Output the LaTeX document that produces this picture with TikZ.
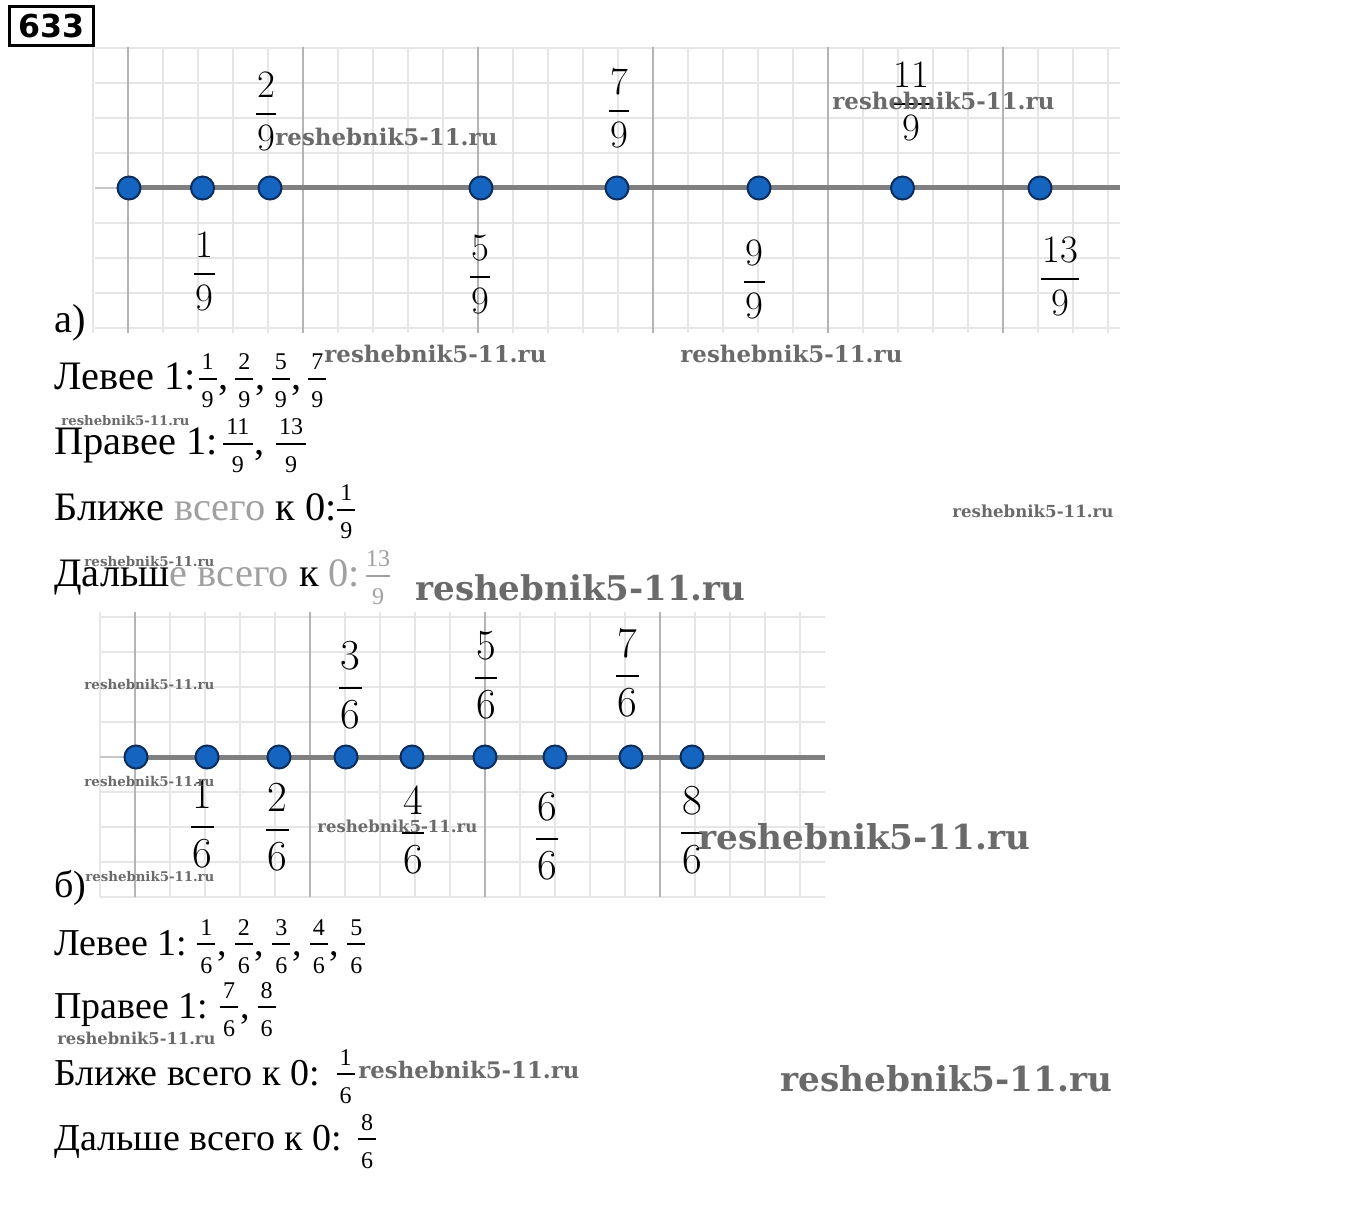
\documentclass[tikz,border=0pt]{standalone}
\usepackage[no-math]{fontspec}
\setmainfont{Liberation Serif}
\newfontfamily\boxfont{DejaVu Sans}
\newfontfamily\wmfont{DejaVu Serif}
\newfontfamily\lmfont{Latin Modern Roman}
\usepackage{graphicx}
\definecolor{minorgrid}{HTML}{E6E6E6}
\definecolor{majorgrid}{HTML}{B4B4B4}
\definecolor{axisgray}{HTML}{808080}
\definecolor{thinaxis}{HTML}{C8C8C8}
\definecolor{dotblue}{HTML}{1565C0}
\definecolor{dotedge}{HTML}{0B2D5C}
\definecolor{wmgray}{HTML}{6A6A6A}
\definecolor{washed}{HTML}{A0A0A0}
% graph fraction (display-style geometry, Latin Modern digits)
\newcommand\gfr[2]{{\lmfont
  \setbox0\hbox{#1}\setbox2\hbox{#2}%
  \dimen0=\wd0 \ifdim\wd2>\dimen0 \dimen0=\wd2\fi
  \advance\dimen0 by 0.06em
  \hbox to\dimen0{%
    \rlap{\hbox to\dimen0{\hss\raise0.677em\box0\hss}}%
    \rlap{\raise0.23em\hbox{\vrule width\dimen0 height 0.04em depth 0pt}}%
    \hbox to\dimen0{\hss\lower0.686em\box2\hss}}}}
% answer fraction
\newcommand\fs{\fontsize{12}{12}\selectfont}
\newcommand\fr[3][9pt]{\makebox[#1]{%
  \rlap{\makebox[#1]{\raisebox{10pt}{\fs #2}}}%
  \rlap{\rule[5pt]{#1}{1pt}}%
  \makebox[#1]{\raisebox{-9pt}{\fs #3}}}}
\newcommand\sep{\kern1pt,\kern3.25pt}
\newcommand\sepb{\kern1pt,\kern4pt}
\newcommand\wmtext[1]{\resizebox{#1}{!}{\wmfont\bfseries reshebnik5-11.ru}}
\begin{document}
\begin{tikzpicture}[x=0.5pt,y=-0.5pt,
  minor/.style={draw=minorgrid,line width=0.75pt},
  major/.style={draw=majorgrid,line width=1pt},
  thinax/.style={draw=thinaxis,line width=0.75pt},
  thickax/.style={draw=axisgray,line width=2.5pt},
  dot/.style={circle,fill=dotblue,draw=dotedge,line width=1pt,minimum size=11.5pt,inner sep=0pt},
  labA/.style={anchor=base,inner sep=0pt,font=\fontsize{19.4}{20}\selectfont},
  labB/.style={anchor=base,inner sep=0pt,font=\fontsize{21.4}{22}\selectfont},
  ansA/.style={anchor=base west,inner sep=0pt,font=\fontsize{20.2}{22}\selectfont},
  ansB/.style={anchor=base west,inner sep=0pt,font=\fontsize{19}{21}\selectfont},
  wm/.style={anchor=west,inner sep=0pt,text=wmgray}]
\useasboundingbox[fill=white] (0,0) rectangle (1360,1213);

% number box
\node[draw,line width=1.5pt,minimum width=42pt,minimum height=19.5pt,inner sep=0pt,
  font=\boxfont\bfseries\fontsize{15.8}{16}\selectfont] (num) at (51.5,26) {633};

% ---------- grid a ----------
\foreach \k in {-1,...,28} \draw[minor] ({128+35*\k},47) -- ({128+35*\k},333);
\foreach \k in {0,...,8} \draw[minor] (95,{48+35*\k}) -- (1120,{48+35*\k});
\foreach \k in {0,...,5} \draw[major] ({128+175*\k},47) -- ({128+175*\k},333);
\coordinate (aL) at (95,188);
\coordinate (aS) at (129,188);
\coordinate (aR) at (1120,188);
\draw[thinax] (aL) -- (aS);
\draw[thickax] (aS) -- (aR);
\node[dot] (a0) at (129,188) {};
\node[dot] (a1) at (202.5,188) {};
\node[dot] (a2) at (270,188) {};
\node[dot] (a5) at (481,188) {};
\node[dot] (a7) at (617,188) {};
\node[dot] (a9) at (759,188) {};
\node[dot] (a11) at (902.5,188) {};
\node[dot] (a13) at (1040,188) {};

\node[labA] (la2) at (266,123.7) {\gfr{2}{9}};
\node[labA] (la7) at (619,120.7) {\gfr{7}{9}};
\node[labA] (la11) at (911,113.7) {\gfr{11}{9}};
\node[labA] (la1) at (204.5,283.7) {\gfr{1}{9}};
\node[labA] (la5) at (480,286.7) {\gfr{5}{9}};
\node[labA] (la9) at (754.5,291.7) {\gfr{9}{9}};
\node[labA] (la13) at (1060,288.7) {\gfr{13}{9}};

\node[ansA] (pa) at (54,333) {а)};

% ---------- answers a ----------
\node[ansA] (ra1) at (54,390) {Левее 1:\kern1.5pt\fr{1}{9}\sep\fr{2}{9}\sep\fr{5}{9}\sep\fr{7}{9}};
\node[ansA] (ra2) at (54,455) {Правее 1:\kern2.5pt\fr[15pt]{11}{9}\kern1pt,\kern5.5pt\fr[15pt]{13}{9}};
\node[ansA] (ra3) at (54,521) {Ближе \textcolor{washed}{всего} к 0:\kern0.5pt\fr{1}{9}};
\node[ansA] (ra4) at (54,587) {Дальш\textcolor{washed}{е всего} к \textcolor{washed}{0:\kern3pt\fr[12pt]{13}{9}}};

% ---------- grid b ----------
\foreach \k in {-1,...,19} \draw[minor] ({135+35*\k},612) -- ({135+35*\k},897);
\foreach \k in {0,...,8} \draw[minor] (100,{617+35*\k}) -- (825,{617+35*\k});
\foreach \k in {0,...,3} \draw[major] ({135+175*\k},612) -- ({135+175*\k},897);
\coordinate (bL) at (100,757);
\coordinate (bS) at (136,757);
\coordinate (bR) at (825,757);
\draw[thinax] (bL) -- (bS);
\draw[thickax] (bS) -- (bR);
\node[dot] (b0) at (136,757) {};
\node[dot] (b1) at (207,757) {};
\node[dot] (b2) at (279,757) {};
\node[dot] (b3) at (346,757) {};
\node[dot] (b4) at (412,757) {};
\node[dot] (b5) at (485,757) {};
\node[dot] (b6) at (555,757) {};
\node[dot] (b7) at (631,757) {};
\node[dot] (b8) at (692,757) {};

\node[labB] (lb3) at (350.5,698.7) {\gfr{3}{6}};
\node[labB] (lb5) at (486,688.7) {\gfr{5}{6}};
\node[labB] (lb7) at (627.5,686.7) {\gfr{7}{6}};
\node[labB] (lb1) at (202.5,837.7) {\gfr{1}{6}};
\node[labB] (lb2) at (277.5,840.7) {\gfr{2}{6}};
\node[labB] (lb4) at (413,843.7) {\gfr{4}{6}};
\node[labB] (lb6) at (547,849.7) {\gfr{6}{6}};
\node[labB] (lb8) at (692.5,843.7) {\gfr{8}{6}};

\node[ansB] (pb) at (54,897) {б)};

% ---------- answers b ----------
\node[ansB] (rb1) at (54,955) {Левее 1:\kern5pt\fr{1}{6}\sepb\fr{2}{6}\sepb\fr{3}{6}\sepb\fr{4}{6}\sepb\fr{5}{6}};
\node[ansB] (rb2) at (54,1018) {Правее 1:\kern6pt\fr{7}{6}\sepb\fr{8}{6}};
\node[ansB] (rb3) at (54,1085) {Ближе всего к 0:\kern8.5pt\fr{1}{6}};
\node[ansB] (rb4) at (54,1150) {Дальше всего к 0:\kern8pt\fr{8}{6}};

% ---------- watermarks ----------
\node[wm] (w1) at (275,137) {\wmtext{111pt}};
\node[wm] (w2) at (832,101) {\wmtext{111pt}};
\node[wm] (w3) at (324,354) {\wmtext{111pt}};
\node[wm] (w4) at (680,354) {\wmtext{111pt}};
\node[wm] (w5) at (61,421) {\wmtext{64pt}};
\node[wm] (w6) at (952,511) {\wmtext{80.5pt}};
\node[wm] (w7) at (84,561) {\wmtext{65pt}};
\node[wm] (w8) at (415,588) {\wmtext{165pt}};
\node[wm] (w9) at (84,684) {\wmtext{65pt}};
\node[wm] (w10) at (84,781) {\wmtext{65pt}};
\node[wm] (w11) at (317,826) {\wmtext{80pt}};
\node[wm] (w12) at (698,837) {\wmtext{166pt}};
\node[wm] (w13) at (85,877) {\wmtext{64.5pt}};
\node[wm] (w14) at (57,1038) {\wmtext{79pt}};
\node[wm] (w15) at (358,1070) {\wmtext{110.5pt}};
\node[wm] (w16) at (780,1079) {\wmtext{166pt}};
\end{tikzpicture}
\end{document}
